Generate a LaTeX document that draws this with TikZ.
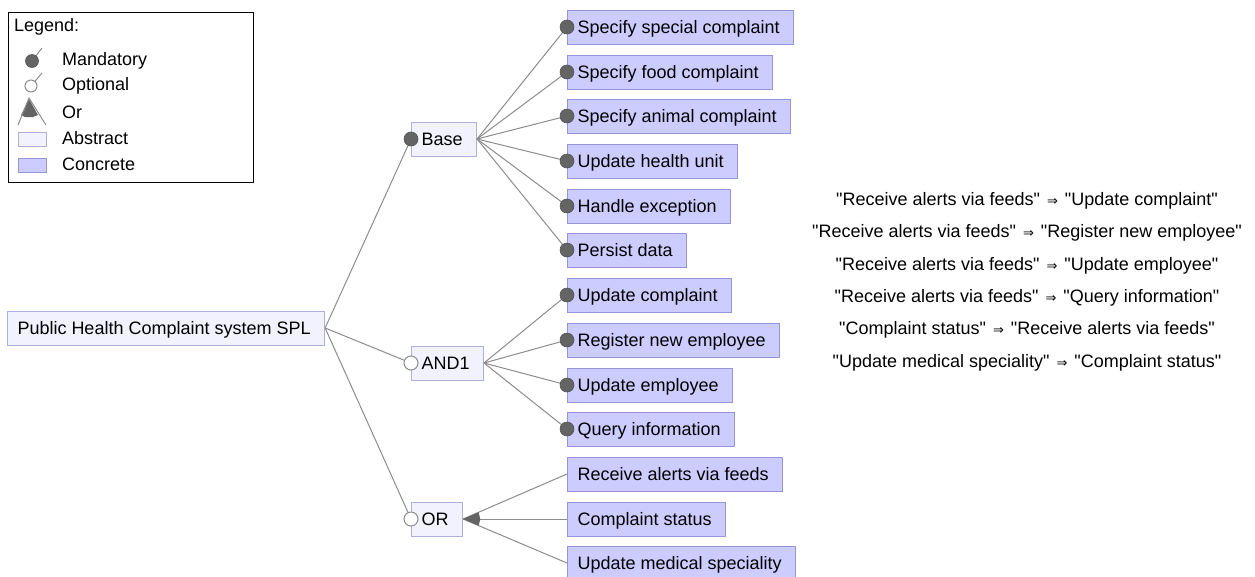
\documentclass[tikz,border=0pt]{standalone}
\usepackage{fontspec}
\setmainfont{Liberation Sans}[Ligatures=TeXOff]
\newfontfamily\arrfont{DejaVu Sans}
\usetikzlibrary{calc}
\definecolor{concfill}{RGB}{204,204,255}
\definecolor{concdraw}{RGB}{150,150,215}
\definecolor{absfill}{RGB}{242,242,255}
\definecolor{absdraw}{RGB}{175,175,220}
\definecolor{edgegray}{RGB}{140,140,140}
\definecolor{dotfill}{RGB}{100,100,100}
\newcommand\implarr{\hspace{7pt}{\arrfont\fontsize{13}{13}\selectfont ⇒}\hspace{7pt}}
\begin{document}
\begin{tikzpicture}[x=1pt,y=-1pt,
  every node/.style={font=\fontsize{18}{20}\selectfont},
  boxbase/.style={line width=1pt, minimum height=34pt, inner ysep=0pt, inner xsep=10pt, anchor=west, text height=16pt, text depth=3pt, execute at end node=\hspace{4pt}},
  conc/.style={boxbase, draw=concdraw, fill=concfill},
  abst/.style={boxbase, draw=absdraw, fill=absfill},
  edge/.style={draw=edgegray, line width=1pt},
  mand/.style={circle, fill=dotfill, draw=dotfill!85!black, line width=0.6pt, inner sep=0pt, minimum size=14pt},
  opt/.style={circle, fill=white, draw=edgegray, line width=1pt, inner sep=0pt, minimum size=14pt},
  lgtext/.style={anchor=west, inner sep=0pt}
]
\useasboundingbox (0,0) rectangle (1255,576);

% legend
\draw[black, line width=1pt] (8,12) rectangle (253,182);
\node[lgtext] (lgtitle) at (14,27) {Legend:};
\node[lgtext] (lgm) at (62,61) {Mandatory};
\node[lgtext] (lgo) at (62,86) {Optional};
\node[lgtext] (lgor) at (62,112) {Or};
\node[lgtext] (lga) at (62,138) {Abstract};
\node[lgtext] (lgc) at (62,164) {Concrete};
\draw[edge] (32,61) -- (42,48);
\node[mand, minimum size=13pt] (lgmdot) at (32,61) {};
\draw[edge] (31,86) -- (42,73);
\node[opt, minimum size=12pt] (lgodot) at (31,86) {};
\fill[dotfill] (29,99) -- (21,115) -- (25,117) -- (33,117) -- (38,115) -- cycle;
\draw[edge] (18,125) -- (29,98) -- (46,125);
\draw[absdraw, fill=absfill, line width=1pt] (18,132) rectangle (46,146);
\draw[concdraw, fill=concfill, line width=1pt] (18,158) rectangle (46,172);

% abstract nodes
\node[abst] (root) at (7,328) {Public Health Complaint system SPL};
\node[abst] (base) at (411,139) {Base};
\node[abst] (and1) at (411,363) {AND1};
\node[abst] (or) at (411,519) {OR};

% concrete nodes
\node[conc] (ssc) at (567,27) {Specify special complaint};
\node[conc] (sfc) at (567,72) {Specify food complaint};
\node[conc] (sac) at (567,116) {Specify animal complaint};
\node[conc] (uhu) at (567,161) {Update health unit};
\node[conc] (he) at (567,206) {Handle exception};
\node[conc] (pd) at (567,250) {Persist data};
\node[conc] (uc) at (567,295) {Update complaint};
\node[conc] (rne) at (567,340) {Register new employee};
\node[conc] (ue) at (567,385) {Update employee};
\node[conc] (qi) at (567,429) {Query information};
\node[conc] (rav) at (567,474) {Receive alerts via feeds};
\node[conc] (cs) at (567,519) {Complaint status};
\node[conc] (ums) at (567,563) {Update medical speciality};

% edges
\draw[edge] (root.east) -- (base.west);
\draw[edge] (root.east) -- (and1.west);
\draw[edge] (root.east) -- (or.west);
\foreach \c in {ssc,sfc,sac,uhu,he,pd} \draw[edge] (base.east) -- (\c.west);
\foreach \c in {uc,rne,ue,qi} \draw[edge] (and1.east) -- (\c.west);
\foreach \c in {rav,cs,ums} \draw[edge] (or.east) -- (\c.west);
\fill[dotfill] (or.east) -- ($(or.east)!17pt!(rav.west)$) -- ($(or.east)!17.3pt!(cs.west)$) -- ($(or.east)!17pt!(ums.west)$) -- cycle;

% group markers
\node[mand] (mbase) at (base.west) {};
\node[opt] (oand1) at (and1.west) {};
\node[opt] (oor) at (or.west) {};
\foreach \c in {ssc,sfc,sac,uhu,he,pd,uc,rne,ue,qi} \node[mand] (m\c) at (\c.west) {};

% constraints
\node (c1) at (1027,201) {"Receive alerts via feeds"\implarr"Update complaint"};
\node (c2) at (1027,233) {"Receive alerts via feeds"\implarr"Register new employee"};
\node (c3) at (1027,266) {"Receive alerts via feeds"\implarr"Update employee"};
\node (c4) at (1027,298) {"Receive alerts via feeds"\implarr"Query information"};
\node (c5) at (1027,330) {"Complaint status"\implarr"Receive alerts via feeds"};
\node (c6) at (1027,363) {"Update medical speciality"\implarr"Complaint status"};
\end{tikzpicture}
\end{document}
